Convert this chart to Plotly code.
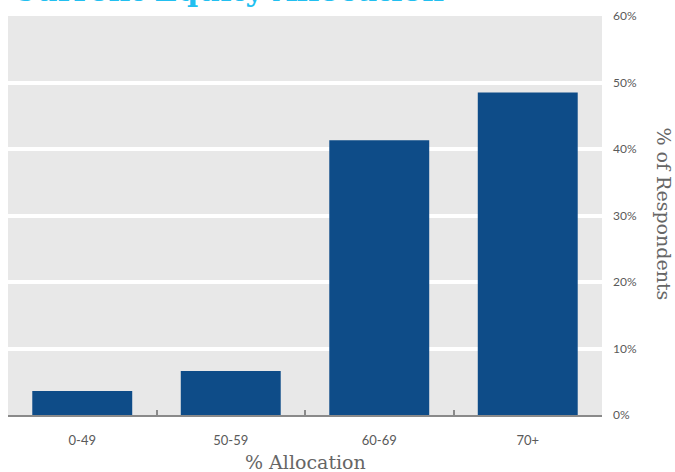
import plotly.graph_objects as go

# Survey results: share of respondents by allocation band
categories = ["0-49", "50-59", "60-69", "70+"]
respondents_pct = [3.6, 6.6, 41.3, 48.5]

y_ticks = [0, 10, 20, 30, 40, 50, 60]
y_tick_labels = [f"{v}%" for v in y_ticks]

title_text = "Current Equity Allocation"
x_title = "% Allocation"
y_title = "% of Respondents"

bar_color = "#0e4c88"
label_color = "#666666"
tick_font = dict(family="Lato", size=12, color="#5a5a5a")
axis_title_font = dict(family="DejaVu Serif", size=19, color=label_color)

fig = go.Figure(
    go.Bar(
        x=categories,
        y=respondents_pct,
        marker=dict(color=bar_color, line=dict(width=0)),
        hoverinfo="skip",
    )
)

fig.update_layout(
    width=675,
    height=472,
    margin=dict(l=8, r=73, t=14, b=57),
    paper_bgcolor="white",
    plot_bgcolor="#e8e8e8",
    bargap=0.327,
    showlegend=False,
    font=tick_font,
)

fig.update_xaxes(
    type="category",
    showgrid=False,
    showline=True,
    linecolor="#8a8a8a",
    linewidth=2,
    ticks="inside",
    tickson="boundaries",
    ticklen=5,
    tickwidth=2,
    tickcolor="#8a8a8a",
    tickfont=dict(family="Lato", size=13, color="#5a5a5a"),
    ticklabelstandoff=12,
    zeroline=False,
)

fig.update_yaxes(
    side="right",
    range=[0, 60],
    tickvals=y_ticks,
    ticktext=y_tick_labels,
    showgrid=True,
    gridcolor="white",
    gridwidth=4,
    zeroline=False,
    showline=False,
    ticks="",
    ticklabelstandoff=10,
    tickfont=tick_font,
)

fig.add_annotation(
    text=x_title,
    xref="paper", yref="paper",
    x=0.5, y=0, yanchor="top", yshift=-34,
    showarrow=False,
    font=axis_title_font,
)

fig.add_annotation(
    text=y_title,
    xref="paper", yref="paper",
    x=1, xanchor="left", xshift=49,
    y=0.5, yanchor="middle", yshift=2,
    textangle=90,
    showarrow=False,
    font=axis_title_font,
)

# Chart heading sits above the plot, mostly outside the page top
fig.add_annotation(
    text=f"<b>{title_text}</b>",
    xref="paper", yref="paper",
    x=0, xanchor="left", xshift=2,
    y=1, yanchor="bottom", yshift=6,
    showarrow=False,
    font=dict(family="DejaVu Serif", size=30, color="#22bff0"),
)

fig.write_html("out.html")
